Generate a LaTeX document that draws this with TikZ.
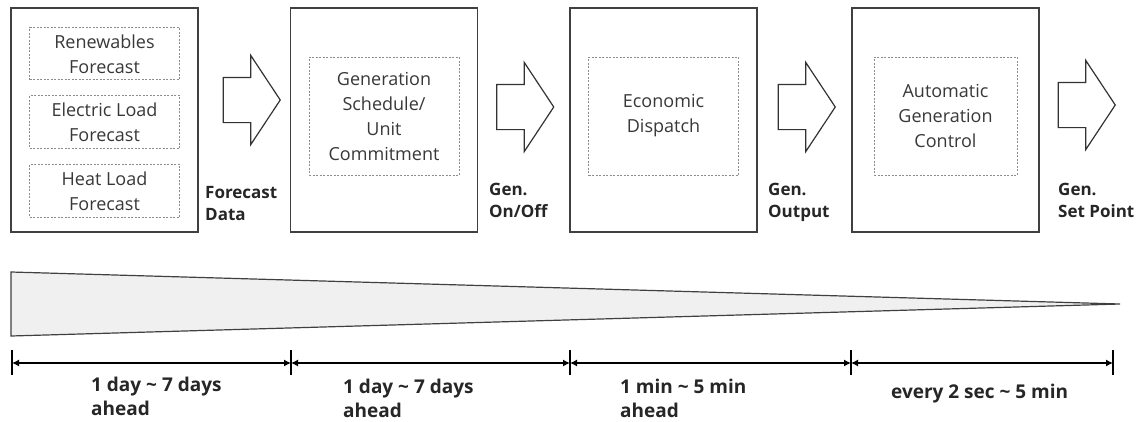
\documentclass[tikz,border=0pt]{standalone}
\usepackage{fontspec}
\setmainfont{Open Sans}
\usetikzlibrary{positioning,arrows.meta,shapes.arrows}
\tikzstyle{tips}=[%
	 btip/.tip = {Latex[length=7, width=7]}]

\begin{document}
\begin{tikzpicture}[x=1pt, y=-1pt, tips]
			\def\gap{15pt}
			\tikzstyle{bloc}=[draw=black!75, line width=1.3pt, minimum width=187pt, minimum height=224pt, inner sep=0pt]
			\tikzstyle{boite}=[draw=black!45, dash pattern=on 2pt off 1.5pt, line width=0.8pt, align=center, text=black!78, inner sep=0pt, minimum width=150pt, font=\fontsize{18}{25}\selectfont]
			\tikzstyle{fleche}=[draw=black!80, line width=1.2pt, single arrow, single arrow head extend=22pt, single arrow tip angle=113, minimum height=57pt, inner xsep=0pt, inner ysep=22pt]
			\tikzstyle{sortie}=[align=left, inner sep=0pt, text=black!85, font=\fontsize{17}{22}\selectfont\bfseries]
			\tikzstyle{duree}=[align=left, inner sep=0pt, text=black!85, font=\fontsize{19}{24}\selectfont\bfseries]
			\useasboundingbox (0,0) rectangle (1138,421);
			% blocs
			\node[bloc] (fcst) at (104.5,120) {};
			\node[bloc] (uc) at (384,120) {};
			\node[bloc] (ed) at (663.5,120) {};
			\node[bloc] (agc) at (945.5,120) {};
			\node[boite, minimum height=52pt, anchor=north] (ren) at ([yshift=-20pt]fcst.north) {Renewables\\Forecast};
			\node[boite, minimum height=53pt, anchor=north] (elec) at ([yshift=-\gap]ren.south) {Electric Load\\Forecast};
			\node[boite, minimum height=53pt, anchor=north] (heat) at ([yshift=-\gap]elec.south) {Heat Load\\Forecast};
			\node[boite, minimum height=118pt] (ucin) at ([yshift=4pt]uc.center) {Generation\\Schedule/\\Unit\\Commitment};
			\node[boite, minimum height=118pt] (edin) at ([yshift=4pt]ed.center) {Economic\\Dispatch};
			\node[boite, minimum height=118pt, minimum width=143pt] (agcin) at ([yshift=4pt]agc.center) {Automatic\\Generation\\Control};
			% fleches
			\node[fleche, anchor=tail] (a1) at ([xshift=24pt, yshift=20pt]fcst.east) {};
			\node[fleche, anchor=tail] (a2) at ([xshift=18pt, yshift=13pt]uc.east) {};
			\node[fleche, anchor=tail] (a3) at ([xshift=20pt, yshift=13pt]ed.east) {};
			\node[fleche, anchor=tail] (a4) at ([xshift=18pt, yshift=15pt]agc.east) {};
			\node[sortie, anchor=north west] (l1) at (205,186) {Forecast\\Data};
			\node[sortie, anchor=north west] (l2) at (489,183) {Gen.\\On/Off};
			\node[sortie, anchor=north west] (l3) at (768,183) {Gen.\\Output};
			\node[sortie, anchor=north west] (l4) at (1058,183) {Gen.\\Set Point};
			% horizon
			\draw[fill=black!6, draw=black!75, line width=1.2pt] (11,272) -- (1120,304) -- (11,336) -- cycle;
			\coordinate (t0) at (12,363);
			\coordinate (t1) at (291,363);
			\coordinate (t2) at (570,363);
			\coordinate (t3) at (851,363);
			\coordinate (t4) at (1113,363);
			\foreach \t in {t0,t1,t2,t3,t4}
				\draw[line width=2pt] ([yshift=13pt]\t) -- ([yshift=-12pt]\t);
			\foreach \a/\b in {t0/t1, t1/t2, t2/t3, t3/t4}
				\draw[line width=1.2pt, btip-btip] (\a) -- (\b);
			\node[duree, anchor=north west] (d1) at (91,377) {1 day \textasciitilde{} 7 days\\ahead};
			\node[duree, anchor=north west] (d2) at (343,379) {1 day \textasciitilde{} 7 days\\ahead};
			\node[duree, anchor=north west] (d3) at (620,379) {1 min \textasciitilde{} 5 min\\ahead};
			\node[duree, anchor=north west] (d4) at (891,384) {every 2 sec \textasciitilde{} 5 min};
		\end{tikzpicture}
\end{document}
